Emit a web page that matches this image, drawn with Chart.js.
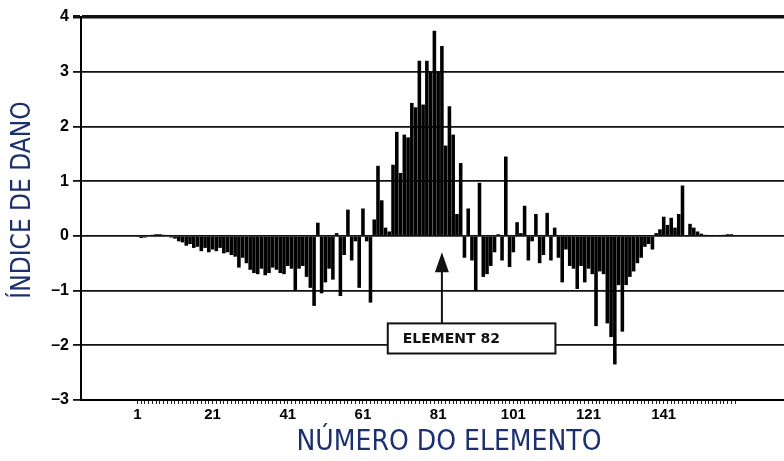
<!DOCTYPE html>
<html>
<head>
<meta charset="utf-8">
<script src="https://cdn.jsdelivr.net/npm/chart.js@4.4.1/dist/chart.umd.min.js"></script>
<style>
  html, body { margin: 0; padding: 0; background: #fff; }
  #wrap { width: 784px; height: 461px; position: relative; }
</style>
</head>
<body>
<div id="wrap"><canvas id="dano"></canvas></div>
<script>
// element numbers 1..160 and the damage index
const elementos = [];
for (let i = 1; i <= 160; i++) elementos.push(i);

const indiceDano = [
  -0.02, -0.04, -0.03, 0.00, 0.02, 0.03, 0.03, 0.02, 0.00, -0.03,
  -0.05, -0.10, -0.12, -0.18, -0.15, -0.22, -0.20, -0.28, -0.22, -0.30,
  -0.25, -0.28, -0.22, -0.32, -0.30, -0.35, -0.38, -0.58, -0.40, -0.50,
  -0.62, -0.68, -0.70, -0.60, -0.72, -0.68, -0.58, -0.62, -0.68, -0.70,
  -0.55, -0.60, -1.00, -0.60, -0.55, -0.75, -0.95, -1.28, 0.24, -1.05,
  -0.85, -0.60, -0.80, 0.05, -1.10, -0.35, 0.48, -0.45, -0.10, -0.95,
  0.50, -0.10, -1.22, 0.30, 1.28, 0.65, 0.15, 0.08, 1.30, 1.90,
  1.15, 1.85, 1.80, 2.43, 2.35, 3.20, 2.40, 3.20, 3.00, 3.75,
  3.00, 3.47, 1.65, 2.37, 1.85, 0.40, 1.33, -0.40, 0.50, -0.45,
  -1.00, 0.97, -0.75, -0.70, -0.55, -0.30, 0.03, -0.45, 1.45, -0.57,
  -0.30, 0.25, 0.05, 0.55, -0.45, -0.10, 0.40, -0.50, -0.35, 0.42,
  -0.45, 0.15, -0.40, -0.85, -0.25, -0.55, -0.60, -0.97, -0.55, -0.85,
  -0.60, -0.70, -1.65, -0.65, -0.70, -1.60, -1.85, -2.35, -0.90, -1.75,
  -0.90, -0.75, -0.65, -0.50, -0.40, -0.20, -0.15, -0.25, 0.05, 0.12,
  0.35, 0.20, 0.33, 0.15, 0.40, 0.92, -0.02, 0.22, 0.15, 0.08,
  0.04, 0.02, 0.01, 0.01, 0.00, 0.01, 0.02, 0.03, 0.03, 0.00
];

const xTickLabels = [1, 21, 41, 61, 81, 101, 121, 141];
const yTicks = [-3, -2, -1, 0, 1, 2, 3, 4];
const elementoMarcado = 82;
const textoMarcado = "ELEMENT 82";
const tituloX = "NÚMERO DO ELEMENTO";
const tituloY = "ÍNDICE DE DANO";
const corTitulo = "#1c2f6e";

// titles and the "ELEMENT 82" call-out
const extras = {
  id: "extras",
  afterDraw(chart) {
    const c = chart.ctx;
    const xs = chart.scales.x, ys = chart.scales.y;
    c.save();
    c.fillStyle = corTitulo;
    c.textAlign = "center";
    c.textBaseline = "middle";
    c.font = "28px 'DejaVu Sans Condensed', sans-serif";
    c.fillText(tituloX, 449, 443);
    c.translate(23, 200);
    c.rotate(-Math.PI / 2);
    c.font = "26px 'DejaVu Sans Condensed', sans-serif";
    c.fillText(tituloY, 0, 0);
    c.restore();

    // arrow + box
    const ax = xs.getPixelForValue(elementoMarcado);
    const tipY = ys.getPixelForValue(-0.3);
    const baseY = ys.getPixelForValue(-1.6);
    c.save();
    c.strokeStyle = "#111";
    c.fillStyle = "#111";
    c.lineWidth = 2;
    c.beginPath();
    c.moveTo(ax, baseY);
    c.lineTo(ax, tipY + 16);
    c.stroke();
    c.beginPath();
    c.moveTo(ax, tipY);
    c.lineTo(ax - 7, tipY + 20);
    c.lineTo(ax + 7, tipY + 20);
    c.closePath();
    c.fill();
    const bx0 = xs.getPixelForValue(67.6), bx1 = xs.getPixelForValue(112.2);
    const by1 = ys.getPixelForValue(-2.15);
    c.lineWidth = 2;
    c.fillStyle = "#fff";
    c.fillRect(bx0, baseY, bx1 - bx0, by1 - baseY);
    c.strokeRect(bx0, baseY, bx1 - bx0, by1 - baseY);
    c.fillStyle = "#111";
    c.font = "bold 14px 'DejaVu Sans', sans-serif";
    c.textAlign = "left";
    c.textBaseline = "middle";
    c.fillText(textoMarcado, bx0 + 15, (baseY + by1) / 2 + 1);
    c.restore();
  }
};

new Chart(document.getElementById("dano"), {
  type: "bar",
  data: {
    datasets: [{
      data: elementos.map((e, i) => ({ x: e, y: indiceDano[i] })),
      backgroundColor: "#000",
      borderWidth: 0,
      barPercentage: 0.95,
      categoryPercentage: 1
    }]
  },
  options: {
    responsive: true,
    maintainAspectRatio: false,
    animation: false,
    layout: { padding: { top: 17, right: 0, left: 0, bottom: 0 } },
    plugins: { legend: { display: false }, tooltip: { enabled: false } },
    scales: {
      x: {
        type: "linear",
        min: -14,
        max: 173,
        offset: false,
        afterBuildTicks: (s) => { s.ticks = elementos.map((v) => ({ value: v })); },
        afterFit: (s) => { s.height = 61; },
        ticks: {
          autoSkip: false,
          maxRotation: 0,
          padding: 2,
          color: "#000",
          font: { family: "'Liberation Sans', Arial, sans-serif", size: 15, weight: "bold" },
          callback: (v) => (xTickLabels.includes(v) ? String(v) : "")
        },
        grid: { drawOnChartArea: false, drawTicks: true, tickLength: 4, color: "#222", offset: false },
        border: { display: true, color: "#000", width: 2 }
      },
      y: {
        min: -3,
        max: 4,
        afterBuildTicks: (s) => { s.ticks = yTicks.map((v) => ({ value: v })); },
        afterFit: (s) => { s.width = 81; },
        ticks: {
          padding: 4,
          color: "#000",
          font: { family: "'Liberation Sans', Arial, sans-serif", size: 16, weight: "bold" },
          callback: (v) => (v < 0 ? "–" + Math.abs(v) : String(v))
        },
        grid: {
          color: "#111",
          lineWidth: (ctx) => (ctx.tick && ctx.tick.value === 4 ? 3.5 : 1.8),
          tickLength: 8
        },
        border: { display: true, color: "#000", width: 2 }
      }
    }
  },
  plugins: [extras]
});
</script>
</body>
</html>
